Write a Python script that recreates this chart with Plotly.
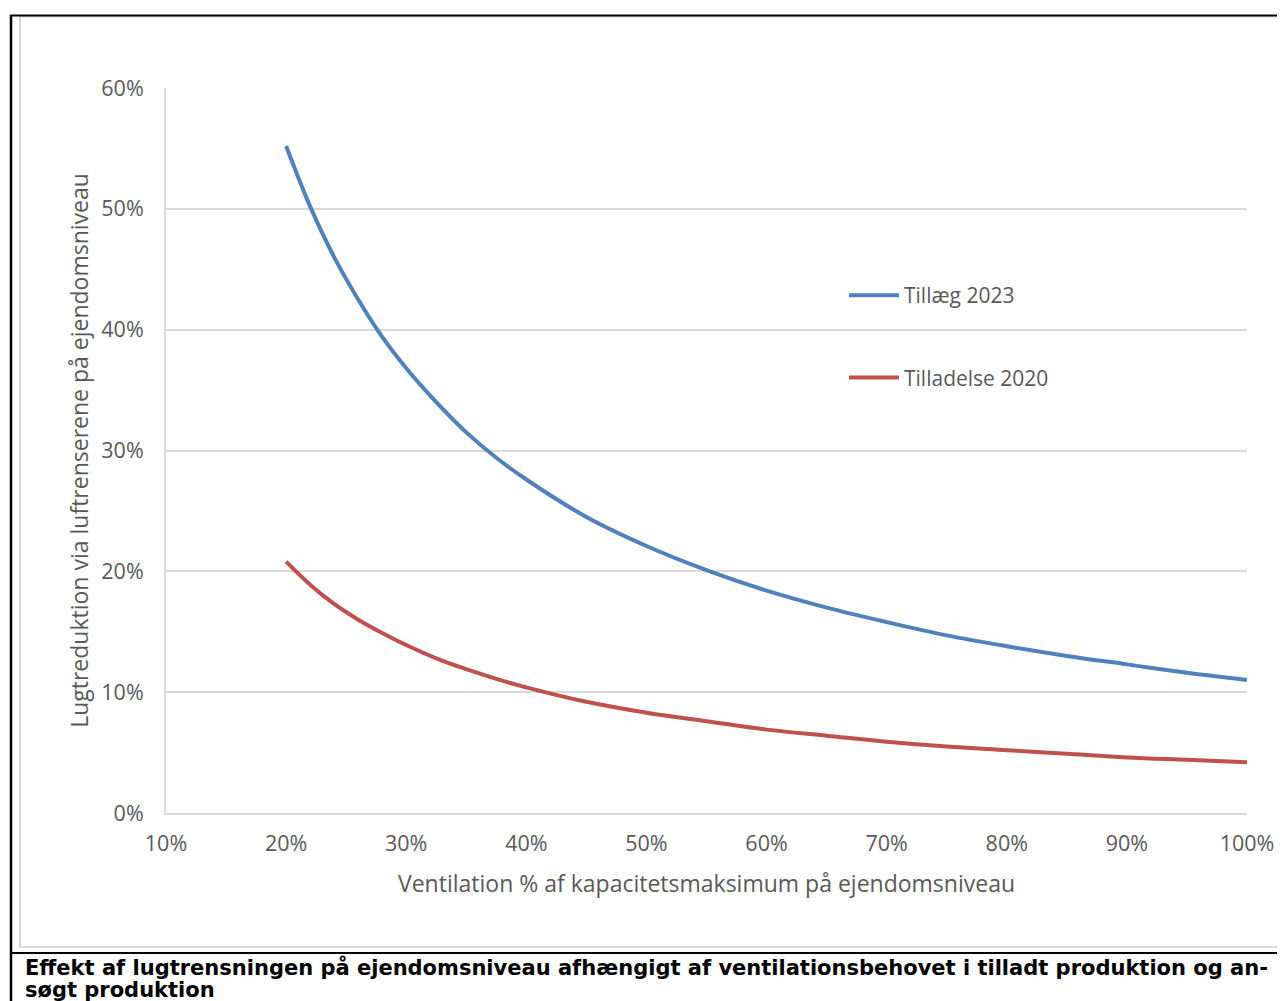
import plotly.graph_objects as go

# Data
ventilation = [0.20, 0.22, 0.24, 0.26, 0.28, 0.30, 0.325, 0.35, 0.375, 0.40, 0.45, 0.50,
               0.55, 0.60, 0.65, 0.70, 0.75, 0.80, 0.85, 0.90, 0.95, 1.00]
tillaeg_2023 = [0.552, 0.502, 0.460, 0.425, 0.394, 0.368, 0.340, 0.315, 0.294, 0.276, 0.245, 0.221,
                0.201, 0.184, 0.170, 0.158, 0.147, 0.138, 0.130, 0.123, 0.116, 0.110]
tilladelse_2020 = [0.208, 0.189, 0.173, 0.160, 0.149, 0.139, 0.128, 0.119, 0.111, 0.104, 0.092, 0.083,
                   0.076, 0.069, 0.064, 0.059, 0.055, 0.052, 0.049, 0.046, 0.044, 0.042]
series_names = ["Tillæg 2023", "Tilladelse 2020"]
x_title = "Ventilation % af kapacitetsmaksimum på ejendomsniveau"
y_title = "Lugtreduktion via luftrenserene på ejendomsniveau"
caption_lines = ["Effekt af lugtrensningen på ejendomsniveau afhængigt af ventilationsbehovet i tilladt produktion og an-",
                 "søgt produktion"]

OFF = 8                      # page body margin
W, H = 1285 - OFF, 1001 - OFF
L, R, T, B = 166, 1247, 88, 813   # plot area in page pixels

def px(x):
    return (x - L) / (R - L)

def py(y):
    return (B - y) / (B - T)

FONT = "Open Sans"
GRAY = "#595959"

fig = go.Figure()
fig.add_trace(go.Scatter(x=ventilation, y=tillaeg_2023, mode="lines", name=series_names[0],
                         legendgroup="a",
                         line=dict(color="#4F81BD", width=4, shape="spline")))
fig.add_trace(go.Scatter(x=ventilation, y=tilladelse_2020, mode="lines", name=series_names[1],
                         legendgroup="b",
                         line=dict(color="#C0504D", width=4, shape="spline")))

shapes = [
    # inner chart border (gray)
    dict(type="rect", xref="paper", yref="paper", x0=px(20), x1=px(1300), y0=py(947), y1=py(16.5),
         line=dict(color="#D9D9D9", width=2), layer="below"),
    # outer table borders (black)
    dict(type="line", xref="paper", yref="paper", x0=px(11), x1=px(11), y0=py(15), y1=py(1010),
         line=dict(color="black", width=2.5)),
    dict(type="line", xref="paper", yref="paper", x0=px(10), x1=px(1300), y0=py(15.5), y1=py(15.5),
         line=dict(color="black", width=2)),
    dict(type="line", xref="paper", yref="paper", x0=px(10), x1=px(1300), y0=py(953), y1=py(953),
         line=dict(color="black", width=2)),
]

annotations = [
    dict(text="<b>" + caption_lines[0] + "</b>", xref="paper", yref="paper",
         x=px(23), y=py(967), xanchor="left", yanchor="middle", align="left", showarrow=False,
         font=dict(family="DejaVu Sans", size=21, color="black")),
    dict(text="<b>" + caption_lines[1] + "</b>", xref="paper", yref="paper",
         x=px(23), y=py(990), xanchor="left", yanchor="middle", align="left", showarrow=False,
         font=dict(family="DejaVu Sans", size=21, color="black")),
]

fig.update_layout(
    width=W, height=H,
    margin=dict(l=L - OFF, r=W + OFF - R, t=T - OFF, b=H + OFF - B),
    paper_bgcolor="white", plot_bgcolor="white",
    font=dict(family=FONT, color=GRAY, size=21),
    showlegend=True,
    legend=dict(x=px(844), y=py(275), xanchor="left", yanchor="top",
                bgcolor="rgba(0,0,0,0)", font=dict(size=21, color=GRAY, family=FONT),
                tracegroupgap=52, itemwidth=50, traceorder="grouped"),
    xaxis=dict(range=[0.1, 1.0], dtick=0.1, tick0=0.1, tickformat=".0%",
               showgrid=False, showline=True, linecolor="#D9D9D9", linewidth=2,
               ticks="", zeroline=False, ticklabelstandoff=10,
               title=dict(text=x_title, font=dict(size=23, color=GRAY), standoff=20),
               tickfont=dict(size=21.5, color=GRAY)),
    yaxis=dict(range=[0, 0.6], dtick=0.1, tickformat=".0%",
               showgrid=True, gridcolor="#D9D9D9", gridwidth=1.5,
               showline=True, linecolor="#D9D9D9", linewidth=2,
               ticks="", zeroline=False, ticklabelstandoff=16,
               title=dict(text=y_title, font=dict(size=23, color=GRAY), standoff=6),
               tickfont=dict(size=21.5, color=GRAY)),
    shapes=shapes,
    annotations=annotations,
)

fig.write_html("out.html")
